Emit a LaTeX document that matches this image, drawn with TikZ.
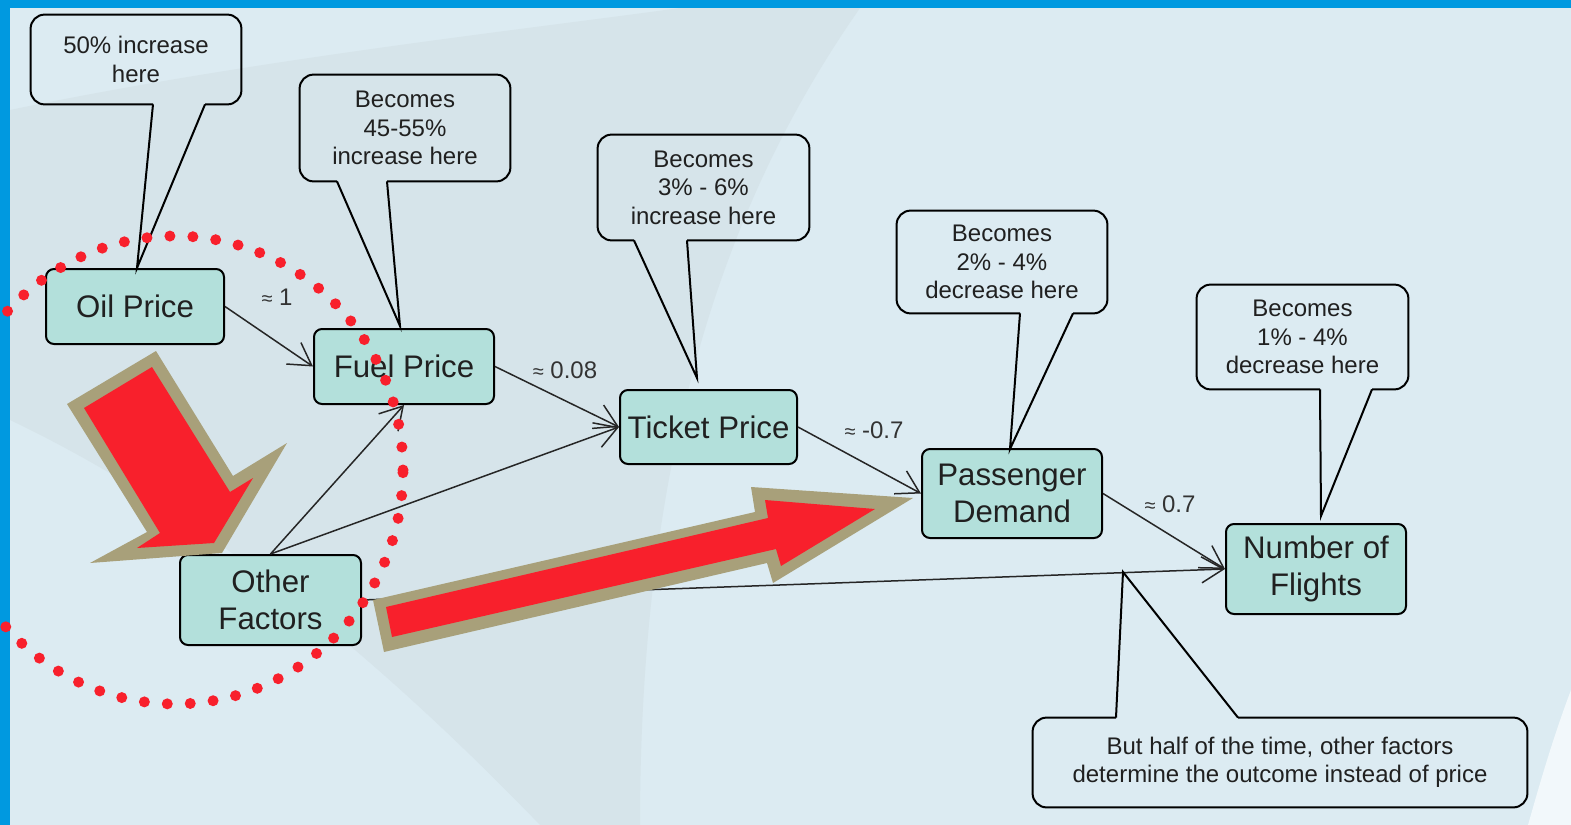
\documentclass[tikz,border=0pt]{standalone}
\usepackage{fontspec}
\setmainfont{Liberation Sans}
\usetikzlibrary{arrows.meta}
\definecolor{frameblue}{HTML}{0099E0}
\definecolor{bgblue}{HTML}{DCEBF2}
\definecolor{bgdark}{HTML}{D6E4EA}
\definecolor{bglight}{HTML}{F2F8FB}
\definecolor{nodefill}{HTML}{B3E0DB}
\definecolor{arrred}{HTML}{F8202C}
\definecolor{arrtan}{HTML}{A8A07A}
\definecolor{txt}{HTML}{202020}
\newcommand{\drawbubble}[4]{%
  \draw[notebox] (#2,0 |- #1.south) -- (#1.south west) -- (#1.north west) -- (#1.north east) -- (#1.south east) -- (#3,0 |- #1.south);
  \draw[notetail] (#3,0 |- #1.south) -- (#4) -- (#2,0 |- #1.south);}
\newcommand{\approxsym}{{\fontsize{10}{10}\selectfont ≈}}
\begin{document}
\begin{tikzpicture}[x=0.5pt,y=-0.5pt,
  factor/.style={draw=black, line width=1pt, fill=nodefill, rounded corners=4pt, inner sep=0pt, align=center, text=txt, font=\fontsize{15.6}{18.5}\selectfont},
  note/.style={inner sep=0pt, align=center, text=txt, font=\fontsize{12}{14.2}\selectfont},
  notebox/.style={draw=black, line width=1pt, rounded corners=7pt},
  notetail/.style={draw=black, line width=1pt, line join=miter},
  link/.style={draw=black!85, line width=0.75pt, -{Straight Barb[length=11pt,width=13pt]}},
  elabel/.style={inner sep=0pt, text=black!80, font=\fontsize{12}{14}\selectfont},
  reddots/.style={draw=arrred, line width=5.5pt, line cap=round, dash pattern=on 0pt off 11.5pt}
]
% background and frame
\fill[frameblue] (0,0) rectangle (1571,825);
\fill[bgblue] (10,8) rectangle (1571,825);
\useasboundingbox (0,0) rectangle (1571,825);
\begin{scope}
  \clip (10,8) rectangle (1571,825);
  \fill[bgdark] (10,110) .. controls (250,60) and (520,30) .. (680,8) -- (860,8)
     .. controls (740,180) and (640,420) .. (640,825) -- (540,825)
     .. controls (400,680) and (220,520) .. (10,420) -- cycle;
  \fill[bglight] (1571,690) .. controls (1552,740) and (1538,790) .. (1528,825) -- (1571,825) -- cycle;
\end{scope}

% factor nodes
\node[factor, minimum width=89pt, minimum height=37.5pt] (oil) at (135,306.5) {Oil Price};
\node[factor, minimum width=90pt, minimum height=37.5pt] (fuel) at (404,366.5) {Fuel Price};
\node[factor, minimum width=88.5pt, minimum height=37pt] (ticket) at (708.5,427) {Ticket Price};
\node[factor, minimum width=90pt, minimum height=44.5pt] (demand) at (1012,493.5) {Passenger\\Demand};
\node[factor, minimum width=90pt, minimum height=45pt] (flights) at (1316,569) {Number of\\Flights};
\node[factor, minimum width=90.5pt, minimum height=45pt] (other) at (270.5,600) {Other\\Factors};

% connectors
\draw[link] (oil.east) -- (fuel.west);
\draw[link] (fuel.east) -- (ticket.west);
\draw[link] (ticket.east) -- (demand.west);
\draw[link] (demand.east) -- (flights.west);
\draw[link] (other.north) -- (fuel.south);
\draw[link] (other.north) -- (ticket.west);
\draw[link] (other.east) -- (flights.west);

% edge labels
\node[elabel] (l1) at (277,297) {\approxsym\ 1};
\node[elabel] (l2) at (565,370) {\approxsym\ 0.08};
\node[elabel] (l3) at (874,430) {\approxsym\ -0.7};
\node[elabel] (l4) at (1170,504) {\approxsym\ 0.7};

% red block arrows
\fill[arrtan] (67,404) -- (156,351) -- (233,476) -- (287,443) -- (222,553) -- (90,563) -- (147,532) -- cycle;
\fill[arrred] (84,408) -- (152,367) -- (230,492) -- (253,478) -- (214,543) -- (137,548) -- (160,533) -- cycle;
\fill[arrtan] (373,600) -- (755,512) -- (751,487) -- (913,498) -- (773,583) -- (767,563) -- (384,652) -- cycle;
\fill[arrred] (386,607) -- (768,518) -- (765,500) -- (875,509) -- (781,566) -- (776,549) -- (392,637) -- cycle;

% callouts
\node[note, minimum width=105pt, minimum height=44.5pt] (n1) at (136,59.5) {50\% increase\\here};
\node[note, minimum width=105pt, minimum height=53pt] (n2) at (405,128) {Becomes\\45-55\%\\increase here};
\node[note, minimum width=105.5pt, minimum height=52.5pt] (n3) at (703.5,187.5) {Becomes\\3\% - 6\%\\increase here};
\node[note, minimum width=105pt, minimum height=51pt] (n4) at (1002,262) {Becomes\\2\% - 4\%\\decrease here};
\node[note, minimum width=105.5pt, minimum height=52pt] (n5) at (1302.5,337) {Becomes\\1\% - 4\%\\decrease here};
\node[note, minimum width=247pt, minimum height=44.5pt] (n6) at (1280,762.5) {But half of the time, other factors\\determine the outcome instead of price};

\coordinate (tip1) at (137,268);
\coordinate (tip2) at (400,326);
\coordinate (tip3) at (697,378);
\coordinate (tip4) at (1010,449);
\coordinate (tip5) at (1321,516);
\coordinate (tip6) at (1123,572);

\drawbubble{n1}{153}{205}{tip1}
\drawbubble{n2}{337}{387}{tip2}
\drawbubble{n3}{634}{687}{tip3}
\drawbubble{n4}{1020}{1073}{tip4}
\drawbubble{n5}{1320}{1372}{tip5}
\draw[notebox] (1116,0 |- n6.north) -- (n6.north west) -- (n6.south west) -- (n6.south east) -- (n6.north east) -- (1238,0 |- n6.north);
\draw[notetail] (1238,0 |- n6.north) -- (tip6) -- (1116,0 |- n6.north);

% dotted circle
\begin{scope}
  \clip (0,0) rectangle (1571,825);
  \draw[reddots] (175,470) ellipse [x radius=114pt, y radius=117pt];
\end{scope}
\end{tikzpicture}
\end{document}
